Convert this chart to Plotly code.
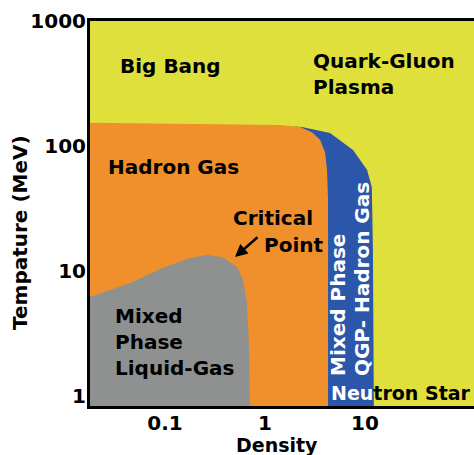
import plotly.graph_objects as go

# ---- data: region boundaries (density, temperature in MeV) ----
hadron_density = [0.01, 0.0178, 0.224, 1.41, 2.24, 2.95, 3.55, 3.98, 4.17, 4.27, 4.27, 0.01]
hadron_temp = [154, 153, 150, 147, 142, 129, 112, 89.5, 64.3, 37, 0.5, 0.5]

qgp_mixed_density = [2.0, 2.34, 4.47, 7.59, 10.5, 11.7, 12.0, 12.3, 12.3, 2.0]
qgp_mixed_temp = [143, 142, 127, 92.9, 64.3, 47, 14.7, 1.0, 0.5, 0.5]

liquid_gas_density = [0.01, 0.0178, 0.0447, 0.0955, 0.178, 0.263, 0.380, 0.525, 0.603, 0.661, 0.692, 0.708, 0.708, 0.01]
liquid_gas_temp = [5.2, 6.19, 8.02, 10.6, 12.7, 13.4, 12.9, 10.8, 8.47, 5.55, 2.47, 1.0, 0.5, 0.5]

x_tick_vals = [0.1, 1, 10]
x_tick_text = ["0.1", "1", "10"]
y_tick_vals = [1, 10, 100, 1000]
y_tick_text = ["1", "10", "100", "1000"]

YELLOW = "#dfe03b"
ORANGE = "#ef902c"
BLUE = "#2b56aa"
GRAY = "#8f9191"
FONT = "DejaVu Sans"

W, H = 474, 455
L, R, T, B = 90, 0, 21, 49

def px(xp):
    return (xp - L) / (W - L - R)

def py(yp):
    return (H - B - yp) / (H - B - T)

fig = go.Figure()
for xs, ys, col in [(qgp_mixed_density, qgp_mixed_temp, BLUE),
                    (hadron_density, hadron_temp, ORANGE),
                    (liquid_gas_density, liquid_gas_temp, GRAY)]:
    fig.add_trace(go.Scatter(x=xs, y=ys, mode="lines", fill="toself",
                             fillcolor=col, line=dict(width=0, color=col),
                             hoverinfo="skip", showlegend=False))

bold = dict(family=FONT, size=20, color="black", weight="bold")

def label(text, xp, yp, xanchor="left", yanchor="middle", angle=0, color="black", size=20, align="left"):
    fig.add_annotation(text=text, xref="paper", yref="paper", x=px(xp), y=py(yp),
                       xanchor=xanchor, yanchor=yanchor, showarrow=False,
                       textangle=angle, align=align,
                       font=dict(family=FONT, size=size, color=color, weight="bold"))

label("Big Bang", 118, 66)
label("Quark-Gluon<br>Plasma", 311, 74)
label("Hadron Gas", 106, 167)
label("Critical", 231, 218)
label("Point", 262, 245)
label("Mixed<br>Phase<br>Liquid-Gas", 113, 342)
label("Mixed Phase", 338, 378, xanchor="center", yanchor="bottom", angle=-90, color="white")
label("QGP- Hadron Gas", 362, 378, xanchor="center", yanchor="bottom", angle=-90, color="white")
label("<span style='color:white'>Neu</span>tron Star", 329, 393, size=19)
label("Tempature (MeV)", 20, 233, xanchor="center", yanchor="middle", angle=-90)
label("Density", 277, 445, xanchor="center", yanchor="middle", size=19)

# arrow to the critical point
fig.add_annotation(x=px(235), y=py(257), xref="paper", yref="paper", text="",
                   showarrow=True, arrowhead=2, arrowsize=1, arrowwidth=2.5,
                   arrowcolor="black", ax=24, ay=-21)

fig.update_xaxes(type="log", range=[-1.75, 2.09], tickvals=x_tick_vals, ticktext=x_tick_text,
                 showgrid=False, zeroline=False, showline=True, linecolor="black", linewidth=3,
                 mirror=True, ticks="", tickfont=bold, ticklabelstandoff=-3)
fig.update_yaxes(type="log", range=[-0.08, 3.0], tickvals=y_tick_vals, ticktext=y_tick_text,
                 showgrid=False, zeroline=False, showline=True, linecolor="black", linewidth=3,
                 mirror=False, ticks="", tickfont=bold, ticklabelstandoff=-3)

fig.update_layout(width=W, height=H, margin=dict(l=L, r=R, t=T, b=B),
                  plot_bgcolor=YELLOW, paper_bgcolor="white", showlegend=False)

fig.write_html("out.html", config={"displayModeBar": False},
               post_script="document.body.style.margin='0';document.body.style.overflow='hidden';")
